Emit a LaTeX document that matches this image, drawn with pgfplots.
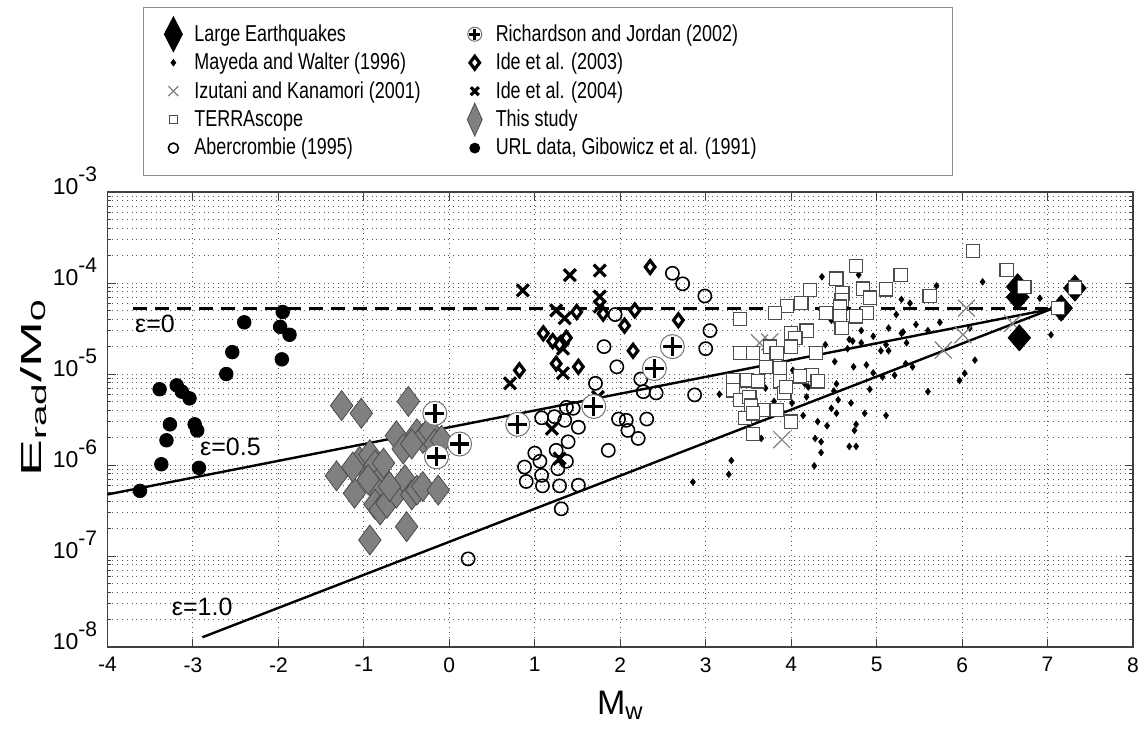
\documentclass[border=0pt]{standalone}
\usepackage{fontspec}
\setmainfont{Liberation Sans}
\newfontfamily\legfont{Liberation Sans}[FakeStretch=0.78]
\newfontfamily\ylabfont{Liberation Sans}[FakeStretch=1.9]
\usepackage{pgfplots}
\pgfplotsset{compat=1.18}
\newcommand\tp[1]{10\raisebox{0.55em}{\fontsize{10.5}{10}\selectfont #1}}
\pgfdeclareplotmark{rj}{%
 \pgfpathcircle{\pgfpointorigin}{\pgfplotmarksize}%
 \pgfsetfillcolor{white}\pgfsetstrokecolor{black!55}\pgfsetlinewidth{0.5pt}%
 \pgfusepathqfillstroke
 \pgfpathmoveto{\pgfqpoint{-0.8\pgfplotmarksize}{0pt}}%
 \pgfpathlineto{\pgfqpoint{0.8\pgfplotmarksize}{0pt}}%
 \pgfpathmoveto{\pgfqpoint{0pt}{-0.8\pgfplotmarksize}}%
 \pgfpathlineto{\pgfqpoint{0pt}{0.8\pgfplotmarksize}}%
 \pgfsetstrokecolor{black}\pgfsetlinewidth{1.7pt}%
 \pgfusepathqstroke
}
\begin{document}
\begin{tikzpicture}
\begin{axis}[name=ax, scale only axis, width=512.75pt, height=227.5pt,
 xmin=-4, xmax=8, ymode=log, ymin=1e-8, ymax=1e-3,
 xtick={-4,-3,-2,-1,0,1,2,3,4,5,6,7,8},
 xticklabels={-4,-3,-2,-1,0,1,2,3,4,5,6,7,8},
 ytick={1e-8,1e-7,1e-6,1e-5,1e-4,1e-3},
 yticklabels={\tp{-8},\tp{-7},\tp{-6},\tp{-5},\tp{-4},\tp{-3}},
 minor ytick={2e-8,3e-8,4e-8,5e-8,6e-8,7e-8,8e-8,9e-8,2e-7,3e-7,4e-7,5e-7,6e-7,7e-7,8e-7,9e-7,2e-6,3e-6,4e-6,5e-6,6e-6,7e-6,8e-6,9e-6,2e-5,3e-5,4e-5,5e-5,6e-5,7e-5,8e-5,9e-5,2e-4,3e-4,4e-4,5e-4,6e-4,7e-4,8e-4,9e-4},
 xmajorgrids, ymajorgrids, yminorgrids,
 major grid style={dotted, black!65, line width=0.5pt},
 minor grid style={dotted, black!65, line width=0.5pt},
 tick align=inside, major tick length=4pt, minor tick length=2pt,
 axis line style={black!75, line width=0.6pt},
 every tick/.style={black!75, line width=0.5pt},
 xticklabel style={font=\fontsize{10.5}{12}\selectfont, inner sep=0pt, anchor=north, yshift=-5pt},
 yticklabel style={font=\fontsize{11.5}{12}\selectfont, inner sep=0pt, anchor=base east, xshift=-5pt, yshift=-1pt},
 xlabel={M\textsubscript{w}},
 xlabel style={at={(axis description cs:0.5,-0.0967)}, anchor=north, inner sep=0pt, font=\fontsize{17}{19}\selectfont},
 ylabel={E\textsubscript{rad}/M\textsubscript{0}},
 ylabel style={at={(axis description cs:-0.059,0.57)}, anchor=south, inner sep=0pt, font=\ylabfont\fontsize{14.5}{16}\selectfont},
 legend columns=2, legend cell align=left,
 legend image code/.code={\path[draw=none,fill=none] (0pt,-4pt) rectangle (17pt,4pt); \draw[#1,overlay] plot coordinates {(8.5pt,0pt)};},
 legend style={at={(0.0346,1.4066)}, anchor=north west, draw=black!45,
   font=\legfont\fontsize{11.5}{13}\selectfont, inner xsep=6.5pt, inner ysep=6.5pt, row sep=0.4pt,
   /tikz/every even column/.append style={column sep=16.5pt}},
]
% legend images
\addlegendimage{only marks, mark=diamond*, mark size=8.75pt, black, mark options={xscale=0.69}}
\addlegendentry{Large Earthquakes}
\addlegendimage{only marks, mark=rj, mark size=3.5pt}
\addlegendentry{Richardson and Jordan (2002)}
\addlegendimage{only marks, mark=diamond*, mark size=1.6pt, black}
\addlegendentry{Mayeda and Walter (1996)}
\addlegendimage{only marks, mark=diamond*, mark size=3.2pt, black, line width=1.6pt, fill=white}
\addlegendentry{Ide et al. (2003)}
\addlegendimage{only marks, mark=x, mark size=3.5pt, black!50, line width=0.6pt}
\addlegendentry{Izutani and Kanamori (2001)}
\addlegendimage{only marks, mark=x, mark size=2.8pt, black, line width=1.6pt}
\addlegendentry{Ide et al. (2004)}
\addlegendimage{only marks, mark=square*, mark size=2pt, draw=black!70, fill=white, line width=0.6pt}
\addlegendentry{TERRAscope}
\addlegendimage{only marks, mark=diamond*, mark size=8.25pt, draw=black!70, fill=black!50, line width=0.4pt, mark options={xscale=0.6}}
\addlegendentry{This study}
\addlegendimage{only marks, mark=o, mark size=2.5pt, black, line width=0.8pt}
\addlegendentry{Abercrombie (1995)}
\addlegendimage{only marks, mark=*, mark size=2.5pt, black}
\addlegendentry{\makebox[220pt][l]{URL data, Gibowicz et al. (1991)}}
% Mayeda and Walter
\addplot[forget plot, only marks, mark=diamond*, mark size=1.6pt, black] coordinates {
(2.85,6.5e-7) (3.30,1.12e-6) (3.27,7.9e-7) (4.27,9.8e-7) (4.35,1.37e-6) (4.35,1.8e-6) (3.16,6.0e-6)
(4.36,1.17e-4) (4.79,1.23e-4) (5.70,9.3e-5) (6.24,1.03e-4) (5.29,6.6e-5) (5.39,6.0e-5) (6.91,6.8e-5)
(6.65,6.0e-5) (5.23,4.5e-5) (4.47,3.9e-5) (5.46,3.5e-5) (5.74,3.7e-5) (5.60,3.0e-5) (5.14,3.2e-5)
(4.82,3.0e-5) (6.09,3.2e-5) (4.96,2.6e-5) (5.29,2.8e-5) (4.68,2.4e-5) (4.82,2.2e-5) (4.40,2.1e-5)
(5.11,2.1e-5) (5.35,2.2e-5) (5.05,1.8e-5) (4.66,1.9e-5) (5.14,1.8e-5) (4.51,1.37e-5) (4.88,1.26e-5)
(4.73,1.2e-5) (5.34,1.3e-5) (5.42,1.2e-5) (6.15,1.42e-5) (4.96,1.03e-5) (5.07,9.3e-6) (5.21,9.7e-6)
(6.03,1.02e-5) (5.97,8.5e-6) (4.53,7.8e-6) (4.16,7.8e-6) (4.20,7.2e-6) (4.92,6.8e-6) (5.60,6.4e-6)
(4.18,5.6e-6) (4.55,5.2e-6) (4.70,4.8e-6) (4.01,4.8e-6) (4.47,4.2e-6) (4.53,3.7e-6) (4.86,3.7e-6)
(5.11,3.5e-6) (4.14,3.5e-6) (4.31,3.0e-6) (4.42,2.7e-6) (4.76,2.8e-6) (4.74,2.4e-6) (3.65,1.96e-6)
(4.28,1.96e-6) (4.68,1.6e-6) (4.76,1.6e-6) (7.04,2.7e-5) (4.02,1.1e-5) (5.31,2.9e-5) (4.72,2.3e-5)
(3.70,7.0e-6) (3.80,5.0e-6) (3.60,9.0e-6) (3.90,1.3e-5) (4.50,6.5e-6)
};
% Izutani and Kanamori
\addplot[forget plot, only marks, mark=x, mark size=6pt, black!50, line width=0.6pt] coordinates {
(6.05,5.3e-5) (6.01,2.7e-5) (5.78,1.83e-5) (6.59,3.6e-5) (3.89,1.9e-6) (3.63,2.2e-5) (3.75,2.25e-5)
};
% Large earthquakes
\addplot[forget plot, only marks, mark=diamond*, mark size=6.5pt, black, mark options={xscale=1.15}] coordinates {
(6.65,9.1e-5) (6.65,7.0e-5) (6.67,2.5e-5) (7.16,5.3e-5) (7.32,8.8e-5)
};
% TERRAscope
\addplot[forget plot, only marks, mark=square*, mark size=3.3pt, draw=black!70, fill=white, line width=0.6pt] coordinates {
(6.13,2.25e-4) (6.52,1.4e-4) (6.73,9.1e-5) (7.12,5.3e-5) (7.32,8.9e-5) (5.62,7.2e-5) (5.28,1.23e-4)
(5.11,8.5e-5) (4.76,1.54e-4) (4.84,8.7e-5) (4.92,6.9e-5) (4.89,4.7e-5) (4.76,4.3e-5) (4.53,1.12e-4)
(4.60,7.7e-5) (4.59,6.5e-5) (4.57,5.5e-5) (4.57,4.3e-5) (4.59,3.2e-5) (4.41,4.7e-5) (4.22,8.4e-5)
(4.12,6.0e-5) (3.95,5.6e-5) (3.81,4.7e-5) (3.40,4.0e-5) (4.18,3.0e-5) (4.00,2.8e-5) (4.05,2.5e-5)
(3.75,2.0e-5) (4.00,2.0e-5) (4.29,1.7e-5) (3.40,1.7e-5) (3.55,1.7e-5) (3.83,1.7e-5) (4.24,9.8e-6)
(4.31,8.3e-6) (4.10,9.4e-6) (3.87,1.15e-5) (3.71,1.2e-5) (3.32,8.5e-6) (3.32,6.6e-6) (3.48,8.5e-6)
(3.61,8.3e-6) (3.87,8.3e-6) (3.92,6.2e-6) (3.40,5.2e-6) (3.51,5.6e-6) (3.69,4.0e-6) (3.83,4.0e-6)
(3.53,4.5e-6) (3.46,3.3e-6) (3.55,3.7e-6) (4.00,3.0e-6) (3.55,2.2e-6) (3.94,7.2e-6)
};
% Abercrombie
\addplot[forget plot, only marks, mark=o, mark size=3.3pt, black, line width=0.8pt] coordinates {
(2.61,1.28e-4) (2.73,9.8e-5) (2.99,7.2e-5) (1.94,4.5e-5) (3.05,3.0e-5) (3.00,1.9e-5) (1.81,2.0e-5)
(1.96,1.2e-5) (2.24,8.8e-6) (2.27,6.4e-6) (2.42,6.2e-6) (2.87,5.9e-6) (1.71,7.9e-6) (1.08,3.3e-6)
(1.37,4.3e-6) (1.45,4.2e-6) (1.23,3.4e-6) (1.35,3.1e-6) (1.51,2.6e-6) (1.98,3.2e-6) (2.07,3.1e-6)
(2.31,3.2e-6) (2.09,2.4e-6) (2.21,1.96e-6) (1.86,1.45e-6) (1.39,1.8e-6) (1.00,1.35e-6) (1.25,1.45e-6)
(0.88,9.5e-7) (1.08,7.7e-7) (0.90,6.6e-7) (1.09,5.9e-7) (1.29,5.9e-7) (1.51,6.0e-7) (1.27,9.1e-7)
(1.37,1.1e-6) (1.31,3.3e-7) (1.06,1.1e-6) (0.22,9.3e-8)
};
% Ide 2004
\addplot[forget plot, only marks, mark=x, mark size=4.2pt, black, line width=1.6pt] coordinates {
(0.86,8.3e-5) (1.41,1.22e-4) (1.76,1.37e-4) (1.76,7.1e-5) (1.25,5.0e-5) (1.35,4.1e-5) (1.76,5.5e-5)
(0.71,7.9e-6) (1.33,1.02e-5) (1.74,5.6e-6) (1.20,2.5e-6) (1.29,1.18e-6) (1.25,2.3e-5) (1.33,1.9e-5)
};
% Ide 2003
\addplot[forget plot, only marks, mark=diamond*, mark size=3.2pt, black, fill=white, line width=1.6pt] coordinates {
(2.35,1.5e-4) (1.49,4.8e-5) (1.80,4.6e-5) (2.17,5.0e-5) (2.05,3.4e-5) (2.68,3.9e-5) (1.10,2.8e-5)
(1.21,2.3e-5) (1.37,2.5e-5) (1.29,2.1e-5) (2.15,1.8e-5) (1.25,1.3e-5) (1.51,1.2e-5) (0.82,1.1e-5)
};
% This study
\addplot[forget plot, only marks, mark=diamond*, mark size=7.5pt, draw=black!70, fill=black!50, line width=0.4pt] coordinates {
(-1.26,4.5e-6) (-1.03,3.7e-6) (-0.48,5.0e-6) (-0.62,2.1e-6) (-0.54,1.5e-6) (-1.32,7.6e-7) (-1.11,4.9e-7)
(-1.05,1.1e-6) (-0.93,1.3e-6) (-0.87,1.0e-6) (-0.81,6.9e-7) (-0.77,1.05e-6) (-0.85,5.3e-7) (-0.87,3.7e-7)
(-0.81,3.2e-7) (-0.73,3.8e-7) (-0.93,1.5e-7) (-0.50,2.1e-7) (-0.62,4.9e-7) (-0.52,6.9e-7) (-0.44,4.7e-7)
(-0.38,5.3e-7) (-0.31,5.8e-7) (-0.13,5.3e-7) (-0.38,2.2e-6) (-0.31,1.96e-6) (-0.23,2.4e-6) (-0.17,1.7e-6)
(-0.09,1.87e-6) (-1.13,9.5e-7) (-0.70,5.8e-7) (-0.95,6.9e-7) (-0.44,1.7e-6)
};
% Richardson and Jordan
\addplot[forget plot, only marks, mark=rj, mark size=6pt] coordinates {
(-0.17,3.7e-6) (0.12,1.7e-6) (-0.15,1.23e-6) (0.80,2.8e-6) (1.69,4.4e-6) (2.40,1.15e-5) (2.61,2.0e-5)
};
% URL data
\addplot[forget plot, only marks, mark=*, mark size=3.4pt, black] coordinates {
(-3.62,5.2e-7) (-3.37,1.02e-6) (-3.31,1.87e-6) (-3.27,2.8e-6) (-3.39,6.8e-6) (-3.19,7.5e-6)
(-3.13,6.4e-6) (-3.04,5.4e-6) (-2.98,2.8e-6) (-2.95,2.4e-6) (-2.93,9.3e-7) (-2.61,1.0e-5)
(-2.54,1.74e-5) (-2.40,3.7e-5) (-1.95,4.8e-5) (-1.98,3.3e-5) (-1.87,2.7e-5) (-1.96,1.45e-5)
};
% epsilon lines
\addplot[forget plot, black, line width=1.5pt, dash pattern=on 7pt off 4pt] coordinates {(-3.70,5.2e-5) (7.0,5.2e-5)};
\addplot[forget plot, black, line width=1.2pt] coordinates {(-4,4.75e-7) (7.05,5.2e-5)};
\addplot[forget plot, black, line width=1.2pt] coordinates {(-2.89,1.28e-8) (7.05,5.2e-5)};
\node[anchor=west, inner sep=0pt, font=\fontsize{12.5}{14}\selectfont] at (axis cs:-3.68,3.6e-5) {ε=0};
\node[anchor=west, inner sep=0pt, font=\fontsize{12.5}{14}\selectfont] at (axis cs:-2.92,1.58e-6) {ε=0.5};
\node[anchor=west, inner sep=0pt, font=\fontsize{12.5}{14}\selectfont] at (axis cs:-3.25,2.75e-8) {ε=1.0};
\end{axis}
\pgfresetboundingbox
\path[use as bounding box] (ax.south west) ++(-53.75pt,-44.5pt) rectangle ++(572.5pt,368pt);
\end{tikzpicture}
\end{document}
